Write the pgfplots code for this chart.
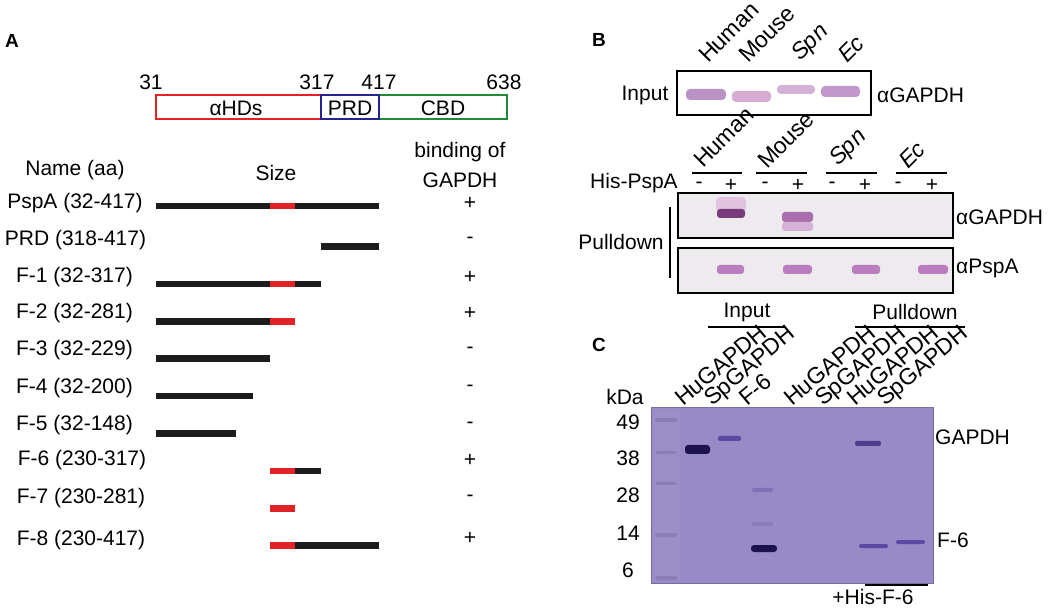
\documentclass[border=0pt]{standalone}
\usepackage{pgfplots}
\pgfplotsset{compat=1.18}
\usepackage{fontspec}
\setmainfont{Liberation Sans}
\definecolor{domred}{RGB}{225,35,35}
\definecolor{domblue}{RGB}{35,35,150}
\definecolor{domgreen}{RGB}{30,140,50}
\definecolor{barblack}{RGB}{28,28,28}
\definecolor{barred}{RGB}{225,35,40}
\definecolor{gelC}{RGB}{152,138,198}
\definecolor{gelCm}{RGB}{156,143,199}
\definecolor{darkband}{RGB}{28,18,78}
\definecolor{midband}{RGB}{92,72,165}
\definecolor{faintband}{RGB}{130,112,182}
\definecolor{mkband}{RGB}{138,125,184}
\definecolor{pinkA}{RGB}{186,146,198}
\definecolor{pinkB}{RGB}{214,172,210}
\definecolor{pinkC}{RGB}{212,178,214}
\definecolor{pinkD}{RGB}{192,152,204}
\definecolor{gelB}{RGB}{238,235,238}
\definecolor{wbdark}{RGB}{120,60,125}
\definecolor{wbmid}{RGB}{170,110,175}
\definecolor{wblight}{RGB}{225,195,225}
\definecolor{wbpspa}{RGB}{185,125,192}
\tikzset{bk/.style={barblack, line width=6.5pt},
         rd/.style={barred, line width=6.5pt},
         lab/.style={font=\fontsize{21}{25}\selectfont, inner sep=0pt},
         rlab/.style={font=\fontsize{23}{27}\selectfont, inner sep=0pt, anchor=base west},
         big/.style={font=\fontsize{19}{22}\selectfont\bfseries, inner sep=0pt}}
\begin{document}
\begin{tikzpicture}
\begin{axis}[width=1050pt,height=609pt,scale only axis,
  xmin=0,xmax=1050,ymin=0,ymax=609,y dir=reverse,
  hide axis,clip=false]
\coordinate (bl) at (axis cs:0,609);
\coordinate (tr) at (axis cs:1050,0);
% ================= Panel A =================
\node[big] at (axis cs:12,41) {A};
% domain diagram
\addplot[draw=domred, line width=1.2pt] coordinates {(156,95)(321,95)(321,119)(156,119)} -- cycle;
\addplot[draw=domgreen, line width=1.2pt] coordinates {(379,95)(507,95)(507,119)(379,119)} -- cycle;
\addplot[draw=domblue, line width=1.2pt] coordinates {(321,95)(379,95)(379,119)(321,119)} -- cycle;
\node[lab] at (axis cs:151,82) {31};
\node[lab] at (axis cs:317,82) {317};
\node[lab] at (axis cs:379,82) {417};
\node[lab] at (axis cs:504,82) {638};
\node[lab] at (axis cs:236,108) {αHDs};
\node[lab] at (axis cs:350,108) {PRD};
\node[lab] at (axis cs:443,108) {CBD};
% headers
\node[lab] at (axis cs:75,170) {Name (aa)};
\node[lab] at (axis cs:276,173) {Size};
\node[lab] at (axis cs:460,152) {binding of};
\node[lab] at (axis cs:460,180) {GAPDH};
% row labels
\node[lab] at (axis cs:75,203) {PspA (32-417)};
\node[lab] at (axis cs:75.5,240) {PRD (318-417)};
\node[lab] at (axis cs:74.5,277) {F-1 (32-317)};
\node[lab] at (axis cs:74.5,313) {F-2 (32-281)};
\node[lab] at (axis cs:74.5,350) {F-3 (32-229)};
\node[lab] at (axis cs:74.5,388) {F-4 (32-200)};
\node[lab] at (axis cs:74.5,425) {F-5 (32-148)};
\node[lab] at (axis cs:82,460) {F-6 (230-317)};
\node[lab] at (axis cs:81,498) {F-7 (230-281)};
\node[lab] at (axis cs:81,540) {F-8 (230-417)};
% signs
\node[lab] at (axis cs:470,203) {+};
\node[lab] at (axis cs:470,240) {-};
\node[lab] at (axis cs:470,277) {+};
\node[lab] at (axis cs:470,313) {+};
\node[lab] at (axis cs:470,350) {-};
\node[lab] at (axis cs:470,388) {-};
\node[lab] at (axis cs:470,425) {-};
\node[lab] at (axis cs:470,460) {+};
\node[lab] at (axis cs:470,498) {-};
\node[lab] at (axis cs:470,538) {+};
% fragment bars
\addplot[bk] coordinates {(156,206)(270,206)};
\addplot[rd] coordinates {(270,206)(295,206)};
\addplot[bk] coordinates {(295,206)(379,206)};
\addplot[bk] coordinates {(321,246.7)(379,246.7)};
\addplot[bk] coordinates {(156,284)(270,284)};
\addplot[rd] coordinates {(270,284)(295,284)};
\addplot[bk] coordinates {(295,284)(321,284)};
\addplot[bk] coordinates {(156,321.7)(270,321.7)};
\addplot[rd] coordinates {(270,321.7)(295,321.7)};
\addplot[bk] coordinates {(156,358.7)(270,358.7)};
\addplot[bk] coordinates {(156,396)(253,396)};
\addplot[bk] coordinates {(156,433.3)(236,433.3)};
\addplot[rd] coordinates {(270,471)(295,471)};
\addplot[bk] coordinates {(295,471)(321,471)};
\addplot[rd] coordinates {(270,508.3)(295,508.3)};
\addplot[rd] coordinates {(270,545.7)(295,545.7)};
\addplot[bk] coordinates {(295,545.7)(379,545.7)};
% ================= Panel B =================
\node[big] at (axis cs:599,40) {B};
\node[rlab, rotate=45] at (axis cs:708,64) {Human};
\node[rlab, rotate=45] at (axis cs:748,64) {Mouse};
\node[rlab, rotate=45] at (axis cs:800,62) {\itshape Spn};
\node[rlab, rotate=45] at (axis cs:847,64) {\itshape Ec};
% input gel
\addplot[draw=none, fill=white] coordinates {(677,71)(871,71)(871,115)(677,115)} -- cycle;
\addplot[draw=none, fill=pinkA, rounded corners=4pt] coordinates {(686,89)(726,89)(726,100)(686,100)} -- cycle;
\addplot[draw=none, fill=pinkB, rounded corners=4pt] coordinates {(732,91)(771,91)(771,102)(732,102)} -- cycle;
\addplot[draw=none, fill=pinkC, rounded corners=4pt] coordinates {(777,85)(815,85)(815,94)(777,94)} -- cycle;
\addplot[draw=none, fill=pinkD, rounded corners=4pt] coordinates {(821,86)(860,86)(860,97)(821,97)} -- cycle;
\addplot[draw=black, line width=1.5pt] coordinates {(677,71)(871,71)(871,115)(677,115)} -- cycle;
\node[lab] at (axis cs:645,95) {Input};
\node[lab, anchor=west] at (axis cs:877,95) {αGAPDH};
% second label set
\node[rlab, rotate=45] at (axis cs:703,169) {Human};
\node[rlab, rotate=45] at (axis cs:767,170) {Mouse};
\node[rlab, rotate=45] at (axis cs:838,167) {\itshape Spn};
\node[rlab, rotate=45] at (axis cs:908,170) {\itshape Ec};
\addplot[black, line width=1.1pt] coordinates {(692,173)(742,173)};
\addplot[black, line width=1.1pt] coordinates {(756,173)(807,173)};
\addplot[black, line width=1.1pt] coordinates {(826,173)(877,173)};
\addplot[black, line width=1.1pt] coordinates {(896,173)(947,173)};
\node[lab] at (axis cs:634,183) {His-PspA};
\node[lab] at (axis cs:699,185) {-};
\node[lab] at (axis cs:731,185) {+};
\node[lab] at (axis cs:765,185) {-};
\node[lab] at (axis cs:798,185) {+};
\node[lab] at (axis cs:832,185) {-};
\node[lab] at (axis cs:865,185) {+};
\node[lab] at (axis cs:898,185) {-};
\node[lab] at (axis cs:932,185) {+};
% pulldown gel 1
\addplot[draw=none, fill=gelB] coordinates {(678,193)(953,193)(953,238)(678,238)} -- cycle;
\addplot[draw=none, fill=wblight, rounded corners=4pt] coordinates {(716,197)(746,197)(746,212)(716,212)} -- cycle;
\addplot[draw=none, fill=wbdark, rounded corners=3pt] coordinates {(717,209)(745,209)(745,218)(717,218)} -- cycle;
\addplot[draw=none, fill=wbmid, rounded corners=3pt] coordinates {(782,212)(813,212)(813,222)(782,222)} -- cycle;
\addplot[draw=none, fill=wblight!80!wbmid, rounded corners=3pt] coordinates {(782,222)(813,222)(813,231)(782,231)} -- cycle;
\addplot[draw=black, line width=1.5pt] coordinates {(678,193)(953,193)(953,238)(678,238)} -- cycle;
% pulldown gel 2
\addplot[draw=none, fill=gelB] coordinates {(678,248)(953,248)(953,293)(678,293)} -- cycle;
\addplot[draw=none, fill=wbpspa, rounded corners=3pt] coordinates {(717,265)(744,265)(744,274)(717,274)} -- cycle;
\addplot[draw=none, fill=wbpspa, rounded corners=3pt] coordinates {(783,265)(812,265)(812,274)(783,274)} -- cycle;
\addplot[draw=none, fill=wbpspa, rounded corners=3pt] coordinates {(852,265)(880,265)(880,274)(852,274)} -- cycle;
\addplot[draw=none, fill=wbpspa, rounded corners=3pt] coordinates {(918,265)(948,265)(948,274)(918,274)} -- cycle;
\addplot[draw=black, line width=1.5pt] coordinates {(678,248)(953,248)(953,293)(678,293)} -- cycle;
\node[lab, anchor=west] at (axis cs:956,217) {αGAPDH};
\node[lab, anchor=west] at (axis cs:956,268) {αPspA};
\node[lab] at (axis cs:621,242) {Pulldown};
\addplot[black, line width=1.2pt] coordinates {(670,207)(670,278)};
\node[lab] at (axis cs:747,312) {Input};
\node[lab] at (axis cs:915,312) {Pulldown};
\addplot[black, line width=1.1pt] coordinates {(708,327)(786,327)};
\addplot[black, line width=1.1pt] coordinates {(855,327)(965,327)};
% ================= Panel C =================
\node[big] at (axis cs:599,345) {C};
\node[lab] at (axis cs:625,397) {kDa};
\node[rlab, rotate=40] at (axis cs:683,407) {HuGAPDH};
\node[rlab, rotate=40] at (axis cs:712,407) {SpGAPDH};
\node[rlab, rotate=40] at (axis cs:747,407) {F-6};
\node[rlab, rotate=40] at (axis cs:792,407) {HuGAPDH};
\node[rlab, rotate=40] at (axis cs:823,407) {SpGAPDH};
\node[rlab, rotate=40] at (axis cs:855,407) {HuGAPDH};
\node[rlab, rotate=40] at (axis cs:885,407) {SpGAPDH};
% gel
\addplot[draw=gelC!80!black, line width=0.4pt, fill=gelC] coordinates {(651,407)(933,407)(933,583)(651,583)} -- cycle;
\addplot[draw=none, fill=gelCm] coordinates {(653,409)(680,409)(680,581)(653,581)} -- cycle;
% marker bands
\addplot[draw=none, fill=mkband, rounded corners=1.5pt] coordinates {(655,418)(677,418)(677,422)(655,422)} -- cycle;
\addplot[draw=none, fill=mkband, rounded corners=1.5pt] coordinates {(655,451)(677,451)(677,454)(655,454)} -- cycle;
\addplot[draw=none, fill=mkband, rounded corners=1.5pt] coordinates {(655,482)(677,482)(677,485)(655,485)} -- cycle;
\addplot[draw=none, fill=mkband, rounded corners=1.5pt] coordinates {(655,533)(677,533)(677,537)(655,537)} -- cycle;
\addplot[draw=none, fill=mkband, rounded corners=1.5pt] coordinates {(655,576)(677,576)(677,580)(655,580)} -- cycle;
% sample bands
\addplot[draw=none, fill=darkband, rounded corners=3pt] coordinates {(685,445)(710,445)(710,454)(685,454)} -- cycle;
\addplot[draw=none, fill=midband, rounded corners=2pt] coordinates {(718,436)(741,436)(741,441)(718,441)} -- cycle;
\addplot[draw=none, fill=faintband, rounded corners=2pt] coordinates {(752,488)(773,488)(773,492)(752,492)} -- cycle;
\addplot[draw=none, fill=faintband!60!gelC, rounded corners=2pt] coordinates {(752,522)(773,522)(773,526)(752,526)} -- cycle;
\addplot[draw=none, fill=darkband, rounded corners=3pt] coordinates {(751,545)(777,545)(777,552)(751,552)} -- cycle;
\addplot[draw=none, fill=midband!85!black, rounded corners=2pt] coordinates {(855,441)(881,441)(881,446)(855,446)} -- cycle;
\addplot[draw=none, fill=midband, rounded corners=2pt] coordinates {(859,544)(888,544)(888,548)(859,548)} -- cycle;
\addplot[draw=none, fill=midband, rounded corners=2pt] coordinates {(896,540)(925,540)(925,544)(896,544)} -- cycle;
% marker labels
\node[lab] at (axis cs:628,422) {49};
\node[lab] at (axis cs:628,458) {38};
\node[lab] at (axis cs:628,495) {28};
\node[lab] at (axis cs:628,533) {14};
\node[lab] at (axis cs:628,570) {6};
\node[lab, anchor=west] at (axis cs:935,437) {GAPDH};
\node[lab, anchor=west] at (axis cs:937,540) {F-6};
\node[lab] at (axis cs:873,597) {+His-F-6};
\addplot[black, line width=1.1pt] coordinates {(865,585)(928,585)};
\end{axis}
\pgfresetboundingbox
\path[use as bounding box] (bl) rectangle (tr);
\end{tikzpicture}
\end{document}
